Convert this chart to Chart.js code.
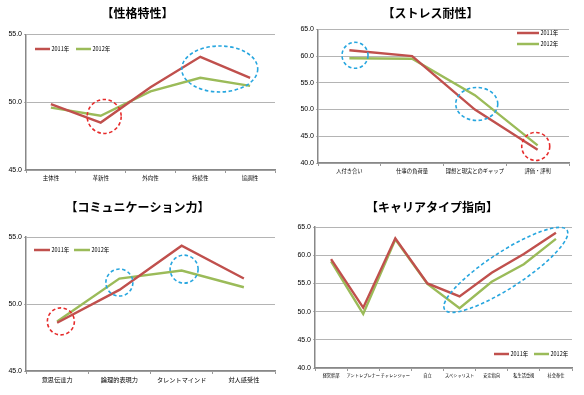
<!DOCTYPE html>
<html>
<head>
<meta charset="utf-8">
<script src="https://cdn.jsdelivr.net/npm/chart.js@4.4.0/dist/chart.umd.min.js"></script>
<style>
  body { margin: 0; background: #fff; }
  .box { position: absolute; }
</style>
</head>
<body>
<div class="box" style="left:0;top:0"><canvas id="c1" width="292" height="195"></canvas></div>
<div class="box" style="left:292px;top:0"><canvas id="c2" width="292" height="195"></canvas></div>
<div class="box" style="left:0;top:195px"><canvas id="c3" width="292" height="200"></canvas></div>
<div class="box" style="left:292px;top:195px"><canvas id="c4" width="292" height="200"></canvas></div>
<script>
// 性格特性
const personalityLabels = ['主体性', '革新性', '外向性', '持続性', '協調性'];
const personality2011 = [49.85, 48.5, 51.1, 53.35, 51.8];
const personality2012 = [49.6, 49.0, 50.8, 51.8, 51.2];

// ストレス耐性
const stressLabels = ['人付き合い', '仕事の負荷量', '理想と現実とのギャップ', '評価・評判'];
const stress2011 = [61.1, 60.0, 50.0, 42.5];
const stress2012 = [59.6, 59.5, 52.7, 43.3];

// コミュニケーション力
const commLabels = ['意思伝達力', '論理的表現力', 'タレントマインド', '対人感受性'];
const comm2011 = [48.6, 51.05, 54.35, 51.9];
const comm2012 = [48.7, 51.9, 52.5, 51.25];

// キャリアタイプ指向
const careerLabels = ['経営幹部', 'アントレプレナー', 'チャレンジャー', '自立', 'スペシャリスト', '安定指向', '私生活重視', '社会奉仕'];
const career2011 = [59.3, 50.7, 63.0, 55.0, 52.7, 56.9, 60.2, 64.0];
const career2012 = [58.9, 49.6, 62.8, 54.9, 50.6, 55.3, 58.4, 62.9];

const seriesNames = ['2011年', '2012年'];

const RED = '#c0504d';
const GREEN = '#9bbb59';
const FONT = "'Noto Sans CJK JP', 'Liberation Sans', sans-serif";

// legend + dashed highlight circles
function extrasPlugin(cfg) {
  return {
    id: 'extras',
    afterDatasetsDraw(chart) {
      const ctx = chart.ctx;
      const xs = chart.scales.x, ys = chart.scales.y;
      ctx.save();
      // highlight ellipses
      cfg.marks.forEach(m => {
        const cx = xs.getPixelForValue(m.at);
        const cy = ys.getPixelForValue(m.value);
        ctx.beginPath();
        ctx.setLineDash([3.5, 2.5]);
        ctx.lineWidth = 1.6;
        ctx.strokeStyle = m.color;
        ctx.ellipse(cx, cy, m.rx, m.ry, (m.rot || 0) * Math.PI / 180, 0, Math.PI * 2);
        ctx.stroke();
      });
      ctx.setLineDash([]);
      // legend
      const lg = cfg.legend;
      ctx.font = '5.5px ' + FONT;
      ctx.textBaseline = 'middle';
      chart.data.datasets.forEach((ds, i) => {
        const x = lg.x + (lg.vertical ? 0 : i * lg.step);
        const y = lg.y + (lg.vertical ? i * lg.step : 0);
        ctx.beginPath();
        ctx.strokeStyle = ds.borderColor;
        ctx.lineWidth = 2.5;
        ctx.moveTo(x, y);
        ctx.lineTo(x + lg.len, y);
        ctx.stroke();
        ctx.fillStyle = '#000';
        ctx.fillText(ds.label, x + lg.len + 1.5, y);
      });
      ctx.restore();
    }
  };
}

function makeChart(id, title, labels, a, b, opt) {
  new Chart(document.getElementById(id), {
    type: 'line',
    data: {
      labels: labels,
      datasets: [
        { label: seriesNames[0], data: a, borderColor: RED, borderWidth: 2.4, pointRadius: 0, tension: 0 },
        { label: seriesNames[1], data: b, borderColor: GREEN, borderWidth: 2.4, pointRadius: 0, tension: 0 },
      ],
    },
    options: {
      responsive: false,
      animation: false,
      devicePixelRatio: 1,
      layout: { padding: opt.padding },
      plugins: {
        legend: { display: false },
        tooltip: { enabled: false },
        title: {
          display: true,
          text: title,
          color: '#000',
          font: { family: FONT, size: 12, weight: 'bold' },
          padding: opt.titlePad,
        },
      },
      scales: {
        x: {
          offset: true,
          afterFit: s => { s.height = 20; },
          grid: { offset: true, drawOnChartArea: false, drawTicks: true, tickLength: 3, color: '#999' },
          border: { color: '#888', width: 1.5 },
          ticks: { color: '#000', font: { family: FONT, size: opt.xFont }, padding: 2, maxRotation: 0, autoSkip: false },
        },
        y: {
          min: opt.min,
          max: opt.max,
          afterFit: s => { s.width = opt.yWidth; },
          ticks: { stepSize: 5, color: '#000', font: { family: "'Liberation Sans', Arial, sans-serif", size: 7 }, padding: 2, callback: v => v.toFixed(1) },
          grid: { color: '#b4b4b4', lineWidth: 1, tickLength: 2 },
          border: { color: '#888', width: 1.5 },
        },
      },
    },
    plugins: [extrasPlugin(opt.extras)],
  });
}

makeChart('c1', '【性格特性】', personalityLabels, personality2011, personality2012, {
  min: 45, max: 55, yWidth: 26, xFont: 5.5,
  padding: { left: 0, right: 17, top: 0, bottom: 5 },
  titlePad: { top: 6, bottom: 14 },
  extras: {
    legend: { x: 35, y: 49, len: 15, step: 41, vertical: false },
    marks: [
      { at: 1.07, value: 48.95, rx: 17, ry: 17, color: '#e62b2b' },
      { at: 3.39, value: 52.45, rx: 38, ry: 23, color: '#27a6df' },
    ],
  },
});

makeChart('c2', '【ストレス耐性】', stressLabels, stress2011, stress2012, {
  min: 40, max: 65, yWidth: 26, xFont: 5.3,
  padding: { left: 0, right: 15, top: 0, bottom: 12 },
  titlePad: { top: 6, bottom: 9 },
  extras: {
    legend: { x: 225, y: 33, len: 22, step: 11, vertical: true },
    marks: [
      { at: 0.09, value: 60.15, rx: 13, ry: 13, color: '#27a6df' },
      { at: 2.03, value: 51.05, rx: 21, ry: 16.5, color: '#27a6df' },
      { at: 2.97, value: 43.1, rx: 14, ry: 14, color: '#e62b2b' },
    ],
  },
});

makeChart('c3', '【コミュニケーション力】', commLabels, comm2011, comm2012, {
  min: 45, max: 55, yWidth: 26, xFont: 6.2,
  padding: { left: 0, right: 17, top: 0, bottom: 4 },
  titlePad: { top: 5, bottom: 22.6 },
  extras: {
    legend: { x: 34, y: 55, len: 16, step: 40, vertical: false },
    marks: [
      { at: 0.06, value: 48.7, rx: 13.5, ry: 13.5, color: '#e62b2b' },
      { at: 1.0, value: 51.6, rx: 13.5, ry: 13.5, color: '#27a6df' },
      { at: 2.04, value: 52.6, rx: 14, ry: 14, color: '#27a6df' },
    ],
  },
});

makeChart('c4', '【キャリアタイプ指向】', careerLabels, career2011, career2012, {
  min: 40, max: 65, yWidth: 23, xFont: 4.2,
  padding: { left: 0, right: 12, top: 0, bottom: 7 },
  titlePad: { top: 5, bottom: 12.6 },
  extras: {
    legend: { x: 202, y: 159, len: 15, step: 40, vertical: false },
    marks: [
      { at: 5.44, value: 57.4, rx: 73, ry: 18, rot: -33, color: '#27a6df' },
    ],
  },
});
</script>
</body>
</html>
